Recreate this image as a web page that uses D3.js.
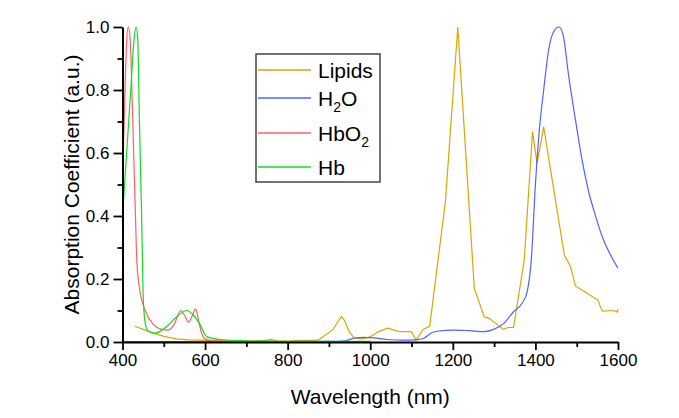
<!DOCTYPE html>
<html>
<head>
<meta charset="utf-8">
<script src="https://cdn.jsdelivr.net/npm/d3@7"></script>
<style>
  body { margin: 0; background: #fff; }
</style>
</head>
<body>
<div id="chart"></div>
<script>
// wavelength (nm) / absorption (a.u.) pairs
const lipidsX = [430, 450, 475, 500, 530, 560, 600, 650, 700, 740, 760, 775, 800, 830, 860, 875, 895, 910, 922, 930, 938, 948, 960, 975, 990, 1005, 1020, 1042, 1068, 1100, 1111, 1128, 1144, 1182, 1212, 1252, 1276, 1288, 1322, 1334, 1347, 1373, 1393, 1404, 1420, 1470, 1485, 1497, 1525, 1551, 1562, 1590, 1598, 1600];
const lipidsY = [0.05, 0.04, 0.028, 0.018, 0.01, 0.007, 0.005, 0.004, 0.003, 0.004, 0.008, 0.003, 0.003, 0.005, 0.005, 0.007, 0.025, 0.04, 0.065, 0.08, 0.068, 0.035, 0.014, 0.01, 0.012, 0.02, 0.033, 0.044, 0.034, 0.032, 0.006, 0.04, 0.05, 0.445, 1.0, 0.17, 0.08, 0.075, 0.04, 0.046, 0.046, 0.26, 0.668, 0.567, 0.683, 0.276, 0.24, 0.178, 0.155, 0.133, 0.098, 0.1, 0.095, 0.104];

const waterX = [400, 600, 800, 900, 940, 960, 985, 1010, 1040, 1080, 1110, 1130, 1150, 1166, 1202, 1240, 1276, 1299, 1324, 1347, 1368, 1380, 1390, 1400, 1410, 1420, 1432, 1444, 1457, 1467, 1481, 1497, 1513, 1529, 1545, 1562, 1582, 1600];
const waterY = [0.001, 0.001, 0.001, 0.002, 0.004, 0.012, 0.015, 0.013, 0.008, 0.006, 0.007, 0.012, 0.03, 0.035, 0.038, 0.036, 0.033, 0.04, 0.06, 0.096, 0.124, 0.16, 0.26, 0.5, 0.68, 0.8, 0.927, 0.985, 1.0, 0.975, 0.84, 0.705, 0.578, 0.477, 0.403, 0.334, 0.276, 0.234];

const hbo2X = [400, 405, 410, 414, 418, 422, 427, 431, 435, 442, 455, 475, 495, 510, 525, 541, 550, 560, 568, 577, 584, 590, 600, 620, 700, 800, 900, 1000];
const hbo2Y = [0.5, 0.75, 0.95, 1.0, 0.97, 0.84, 0.6, 0.42, 0.25, 0.165, 0.1, 0.055, 0.04, 0.038, 0.055, 0.1, 0.085, 0.063, 0.08, 0.105, 0.07, 0.035, 0.01, 0.004, 0.002, 0.001, 0.001, 0.001];

const hbX = [400, 410, 420, 428, 433, 437, 441, 446, 450, 455, 462, 479, 495, 507, 531, 556, 572, 588, 604, 636, 700, 800, 900, 1000];
const hbY = [0.4, 0.6, 0.8, 0.96, 1.0, 0.96, 0.7, 0.42, 0.15, 0.06, 0.035, 0.028, 0.037, 0.049, 0.08, 0.1, 0.085, 0.055, 0.017, 0.008, 0.004, 0.002, 0.002, 0.002];

const series = [
  { name: "Lipids", sub: null, xs: lipidsX, ys: lipidsY, color: "#e0a400", curve: d3.curveLinear },
  { name: "H", sub: ["2", "O"], xs: waterX, ys: waterY, color: "#4f62ff", curve: d3.curveMonotoneX },
  { name: "HbO", sub: ["2", ""], xs: hbo2X, ys: hbo2Y, color: "#ff5e62", curve: d3.curveMonotoneX },
  { name: "Hb", sub: null, xs: hbX, ys: hbY, color: "#10dd20", curve: d3.curveMonotoneX }
];

const width = 679, height = 418;
const margin = { top: 27, right: 61, bottom: 76, left: 122.5 };

const svg = d3.select("#chart").append("svg")
  .attr("width", width)
  .attr("height", height)
  .style("font-family", "'Liberation Sans', Arial, sans-serif");

const x = d3.scaleLinear().domain([400, 1600]).range([margin.left, width - margin.right]);
const y = d3.scaleLinear().domain([0, 1]).range([height - margin.bottom, margin.top]);

// Curves
const plot = svg.append("g");
series.forEach(s => {
  const pts = s.xs.map((v, i) => [v, s.ys[i]]);
  plot.append("path")
    .datum(pts)
    .attr("fill", "none")
    .attr("stroke", s.color)
    .attr("stroke-width", 1.2)
    .attr("d", d3.line().x(d => x(d[0])).y(d => y(d[1])).curve(s.curve));
});

// Minor ticks
svg.append("g")
  .attr("transform", `translate(0,${y(0)})`)
  .call(d3.axisBottom(x).tickValues(d3.range(500, 1600, 200)).tickSize(5).tickSizeOuter(0).tickFormat(""))
  .call(g => g.select(".domain").remove())
  .selectAll("line").attr("stroke-width", 1.8);

svg.append("g")
  .attr("transform", `translate(${x(400)},0)`)
  .call(d3.axisLeft(y).tickValues(d3.range(0.1, 1, 0.2)).tickSize(5).tickSizeOuter(0).tickFormat(""))
  .call(g => g.select(".domain").remove())
  .selectAll("line").attr("stroke-width", 1.8);

// Major ticks + axis lines
const xAxis = svg.append("g")
  .attr("transform", `translate(0,${y(0)})`)
  .call(d3.axisBottom(x).tickValues(d3.range(400, 1601, 200)).tickSize(8).tickSizeOuter(0).tickPadding(4).tickFormat(d3.format("d")));

const yAxis = svg.append("g")
  .attr("transform", `translate(${x(400)},0)`)
  .call(d3.axisLeft(y).tickValues(d3.range(0, 1.01, 0.2)).tickSize(9).tickSizeOuter(0).tickPadding(4).tickFormat(d3.format(".1f")));

[xAxis, yAxis].forEach(a => {
  a.attr("font-family", null).attr("font-size", null);
  a.selectAll("text").style("font-size", "17px").attr("fill", "#000");
  a.select(".domain").attr("stroke-width", 2);
  a.selectAll("line").attr("stroke-width", 1.8);
});

// Axis titles
svg.append("text")
  .attr("x", (x(400) + x(1600)) / 2)
  .attr("y", 404)
  .attr("text-anchor", "middle")
  .style("font-size", "21px")
  .text("Wavelength (nm)");

svg.append("text")
  .attr("transform", `translate(72,${(y(0) + y(1)) / 2}) rotate(-90)`)
  .attr("text-anchor", "middle")
  .attr("dy", "0.35em")
  .style("font-size", "21px")
  .text("Absorption Coefficient (a.u.)");

// Legend
const legend = svg.append("g");
legend.append("rect")
  .attr("x", 256).attr("y", 54)
  .attr("width", 124).attr("height", 128)
  .attr("fill", "#fff")
  .attr("stroke", "#444")
  .attr("stroke-width", 1.5);

const rowY = [70, 98, 133, 167];
series.forEach((s, i) => {
  legend.append("line")
    .attr("x1", 258).attr("x2", 311)
    .attr("y1", rowY[i]).attr("y2", rowY[i])
    .attr("stroke", s.color)
    .attr("stroke-width", 1.5);
  const t = legend.append("text")
    .attr("x", 318)
    .attr("y", rowY[i])
    .attr("dy", "0.36em")
    .style("font-size", "21px")
    .text(s.name);
  if (s.sub) {
    t.append("tspan").style("font-size", "14px").attr("dy", 6).text(s.sub[0]);
    if (s.sub[1]) t.append("tspan").attr("dy", -6).text(s.sub[1]);
  }
});
</script>
</body>
</html>
